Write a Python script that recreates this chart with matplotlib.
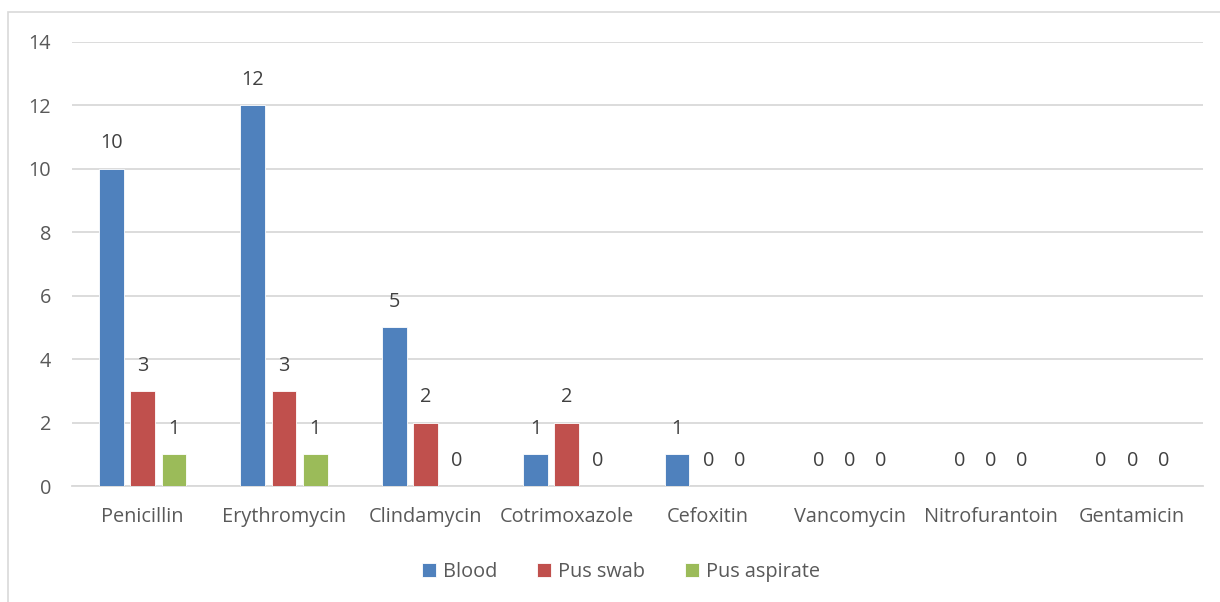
import numpy as np
import matplotlib
matplotlib.use("Agg")
import matplotlib.pyplot as plt
from matplotlib.patches import Rectangle

plt.rcParams['font.family'] = ['Open Sans', 'DejaVu Sans']

antibiotics = ["Penicillin", "Erythromycin", "Clindamycin", "Cotrimoxazole",
               "Cefoxitin", "Vancomycin", "Nitrofurantoin", "Gentamicin"]
blood = [10, 12, 5, 1, 1, 0, 0, 0]
pus_swab = [3, 3, 2, 2, 0, 0, 0, 0]
pus_aspirate = [1, 1, 0, 0, 0, 0, 0, 0]

series = [("Blood", blood, "#4F81BD"),
          ("Pus swab", pus_swab, "#C0504D"),
          ("Pus aspirate", pus_aspirate, "#9BBB59")]

text_color = "#595959"
grid_color = "#D9D9D9"
fs = 14.3

fig = plt.figure(figsize=(12.2, 6.02), dpi=100)
ax = fig.add_axes([72 / 1220, 1 - 486 / 602, (1203 - 72) / 1220, (486 - 41.7) / 602])

x = np.arange(len(antibiotics))
width = 0.175
step = 0.221

for i, (name, vals, color) in enumerate(series):
    pos = x + (i - 1) * step
    bars = ax.bar(pos, vals, width, color=color, edgecolor="white", linewidth=0.6, label=name, zorder=3)
    for b, v in zip(bars, vals):
        ax.annotate(str(v), (b.get_x() + b.get_width() / 2, v), xytext=(0, 11),
                    textcoords="offset points", ha="center", va="bottom",
                    fontsize=fs, color="#404040")

ax.set_xlim(-0.5, len(antibiotics) - 0.5)
ax.set_ylim(0, 14)
ax.set_yticks(range(0, 15, 2))
ax.set_xticks(x)
ax.set_xticklabels(antibiotics)
ax.tick_params(axis="both", length=0, labelsize=fs, labelcolor=text_color)
ax.tick_params(axis="y", pad=15)
ax.tick_params(axis="x", pad=15)
ax.yaxis.grid(True, color=grid_color, linewidth=1.3, zorder=0)
for s in ["top", "right", "left"]:
    ax.spines[s].set_visible(False)
ax.spines["bottom"].set_color(grid_color)
ax.spines["bottom"].set_linewidth(1.3)

leg = fig.legend(loc="center", bbox_to_anchor=(621 / 1220, 1 - 572 / 602), ncol=3,
                 frameon=False, fontsize=fs, handlelength=0.72, handleheight=0.72,
                 handletextpad=0.35, columnspacing=2.0)
for t in leg.get_texts():
    t.set_color(text_color)

fig.patches.append(Rectangle((7.5 / 1220, -0.1), 1.2, 1 - 12 / 602 + 0.1,
                             transform=fig.transFigure, fill=False,
                             edgecolor=grid_color, linewidth=1.2))

fig.savefig("out.png", dpi=100)
